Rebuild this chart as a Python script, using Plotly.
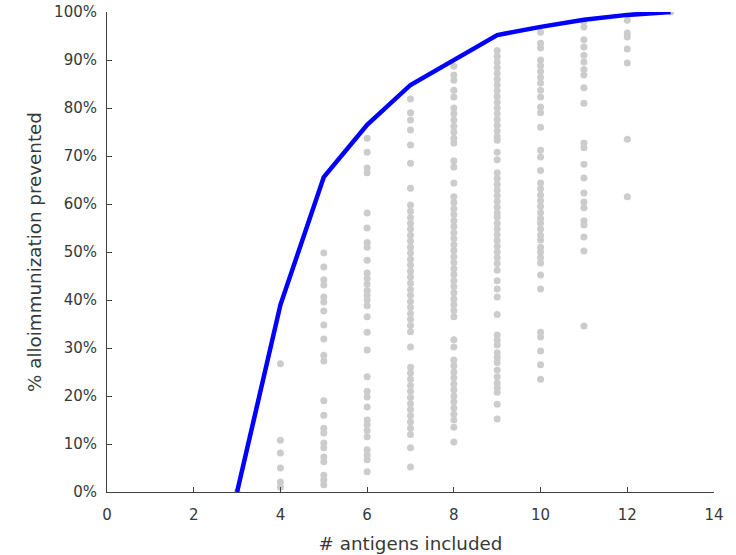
import plotly.graph_objects as go

# Scatter columns: % alloimmunization prevented for each number of antigens
col3 = [0]
col4 = [26.7, 10.8, 8.1, 5.0, 2.1, 1.0]
col5 = [49.8, 46.9, 44.2, 43.1, 40.6, 39.6, 37.7, 34.8, 31.9, 28.5, 27.3, 19.0,
        16.0, 13.3, 12.3, 10.2, 9.2, 7.3, 6.3, 3.5, 2.5, 1.5]
col6 = [73.7, 70.8, 67.5, 66.5, 58.1, 55.0, 52.0, 51.0, 48.3, 45.6, 44.5, 43.3,
        42.0, 41.0, 40.0, 38.8, 36.5, 33.3, 29.6, 24.0, 21.0, 19.8, 17.7, 15.0,
        14.0, 12.8, 11.5, 8.8, 7.7, 6.7, 4.2]
col7 = [81.9, 79.0, 77.5, 75.4, 72.3, 68.5, 63.3, 59.8, 58.5, 57.2, 56.0, 54.8,
        53.5, 52.3, 51.0, 49.8, 48.5, 47.3, 46.0, 44.8, 43.5, 42.2, 41.0, 39.7,
        38.5, 37.2, 36.0, 34.7, 33.4, 30.2, 26.0, 24.8, 23.5, 22.2, 21.0, 19.7,
        18.4, 17.2, 15.9, 14.6, 13.3, 12.0, 9.2, 5.2]
col8 = [88.7, 86.9, 85.8, 83.7, 82.3, 80.0, 78.8, 77.5, 76.2, 75.0, 73.7, 72.7,
        69.0, 67.7, 64.4, 61.5, 60.3, 59.0, 57.8, 56.5, 55.3, 54.0, 52.8, 51.5,
        50.3, 49.0, 47.8, 46.5, 45.3, 44.0, 42.8, 41.5, 40.2, 39.0, 37.8, 36.5,
        31.7, 30.2, 27.5, 26.3, 25.0, 23.8, 22.5, 21.3, 20.0, 18.8, 17.5, 16.2,
        15.0, 13.5, 10.4]
col9 = [92.0, 90.8, 89.6, 88.4, 87.2, 86.0, 84.8, 83.6, 82.4, 81.2, 80.0, 78.8,
        77.6, 76.4, 75.2, 74.0, 73.3, 70.8, 69.2, 66.5, 65.3, 64.1, 62.9, 61.7,
        60.5, 59.3, 58.1, 57.3, 56.0, 54.8, 53.6, 52.4, 51.2, 50.0, 48.8, 47.6,
        46.2, 44.0, 42.3, 40.6, 37.0, 32.7, 31.6, 30.6, 29.0, 28.0, 27.0, 25.4,
        24.0, 22.7, 21.7, 20.8, 18.3, 15.2]
col10 = [95.8, 93.5, 92.5, 90.0, 88.8, 87.6, 86.4, 85.2, 83.7, 82.3, 80.2, 79.0,
         76.0, 71.2, 69.8, 67.0, 64.4, 63.2, 61.9, 60.7, 59.5, 58.2, 57.0, 56.0,
         54.8, 53.5, 52.5, 51.0, 50.0, 48.8, 47.7, 45.2, 42.3, 33.3, 32.3, 29.4,
         26.5, 23.5]
col11 = [98.0, 96.9, 94.2, 92.7, 91.0, 89.6, 88.0, 86.9, 84.2, 81.0, 72.7, 71.7,
         68.3, 65.4, 62.3, 60.4, 59.2, 56.5, 55.6, 53.1, 50.2, 34.6]
col12 = [98.3, 95.6, 94.8, 92.3, 89.4, 73.5, 61.5]
col13 = [100]

columns = {3: col3, 4: col4, 5: col5, 6: col6, 7: col7, 8: col8, 9: col9,
           10: col10, 11: col11, 12: col12, 13: col13}

# Best-set curve
line_x = [3, 4, 5, 6, 7, 8, 9, 10, 11, 12, 13]
line_y = [0, 39.0, 65.6, 76.5, 84.8, 89.9, 95.2, 96.9, 98.4, 99.4, 100]

x_ticks = [0, 2, 4, 6, 8, 10, 12, 14]
y_ticks = [0, 10, 20, 30, 40, 50, 60, 70, 80, 90, 100]
y_tick_labels = ["0%", "10%", "20%", "30%", "40%", "50%", "60%", "70%",
                 "80%", "90%", "100%"]

sx, sy = [], []
for k, vals in columns.items():
    sx += [k] * len(vals)
    sy += vals

AX = "#404040"
TXT = "#383838"
FONT = "DejaVu Sans"

fig = go.Figure()
fig.add_trace(go.Scatter(x=sx, y=sy, mode="markers",
                         marker=dict(color="#cccccc", size=7, line=dict(width=0)),
                         showlegend=False, hoverinfo="skip"))
fig.add_trace(go.Scatter(x=line_x, y=line_y, mode="lines",
                         line=dict(color="#0000ff", width=4.5),
                         showlegend=False))

fig.update_layout(
    width=736, height=555,
    margin=dict(l=107, r=22, t=12, b=63, autoexpand=False),
    paper_bgcolor="white", plot_bgcolor="white",
    font=dict(family=FONT, size=15, color=TXT),
    xaxis=dict(range=[0, 14], tickvals=x_ticks, ticks="inside", ticklen=5,
               tickcolor=AX, showline=True, linecolor=AX, linewidth=1,
               showgrid=False, zeroline=False, mirror=False, automargin=False,
               ticklabelstandoff=9, ticklabeloverflow="allow",
               tickfont=dict(family=FONT, size=15, color=TXT),
               title=dict(text="# antigens included", standoff=14,
                          font=dict(family=FONT, size=18.3, color=TXT))),
    yaxis=dict(range=[0, 100], tickvals=y_ticks, ticktext=y_tick_labels,
               ticks="inside", ticklen=5, tickcolor=AX, showline=True,
               linecolor=AX, linewidth=1, automargin=False,
               ticklabelstandoff=6, ticklabeloverflow="allow",
               showgrid=False, zeroline=False, mirror=False,
               tickfont=dict(family=FONT, size=15, color=TXT),
               title=dict(text="% alloimmunization prevented", standoff=7,
                          font=dict(family=FONT, size=18.3, color=TXT))),
)

fig.write_html("out.html", config={"displayModeBar": False},
               post_script="document.body.style.margin='0px';")
